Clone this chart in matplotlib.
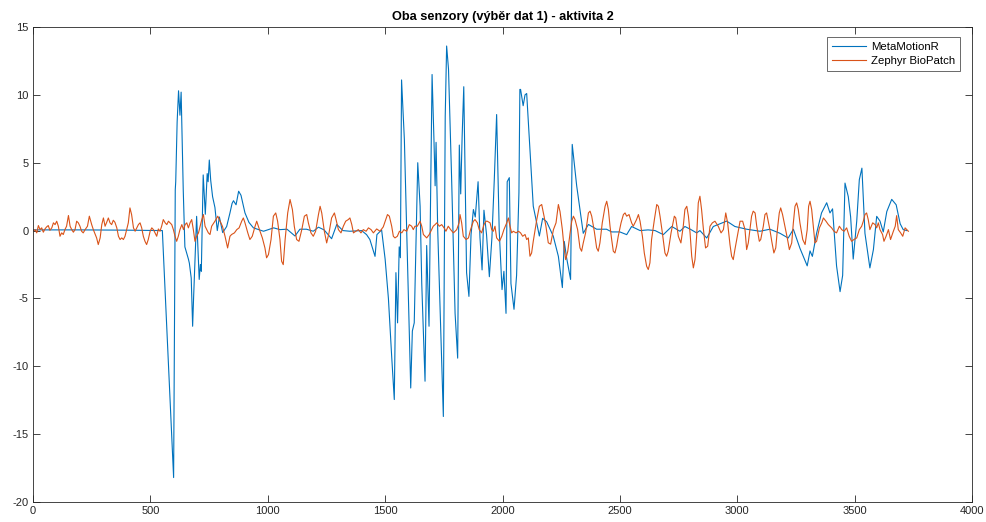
import matplotlib
matplotlib.use("Agg")
import matplotlib.pyplot as plt

plt.rcParams['font.family'] = ['Liberation Sans', 'DejaVu Sans']
plt.rcParams['axes.unicode_minus'] = False

title = "Oba senzory (výběr dat 1) - aktivita 2"
labels = ["MetaMotionR", "Zephyr BioPatch"]
xticks = [0, 500, 1000, 1500, 2000, 2500, 3000, 3500, 4000]
yticks = [-20, -15, -10, -5, 0, 5, 10, 15]

blue_x = [0,200,400,551,599,606,608,614,620,626,
          631,640,647,662,666,674,680,684,697,708,
          713,717,725,734,742,746,751,757,765,775,
          785,794,808,825,839,848,854,865,876,886,
          903,920,939,982,1025,1052,1082,1116,1137,1165,
          1194,1216,1240,1272,1294,1320,1350,1400,1421,1435,
          1457,1465,1485,1500,1514,1528,1539,1546,1553,1560,
          1565,1570,1582,1609,1616,1624,1639,1649,1656,1670,
          1677,1687,1692,1700,1708,1713,1717,1724,1734,1748,
          1756,1762,1770,1783,1798,1809,1816,1822,1828,1835,
          1847,1857,1866,1876,1884,1896,1904,1913,1921,1932,
          1944,1955,1965,1975,1986,1998,2006,2015,2020,2029,
          2036,2049,2060,2070,2074,2077,2088,2096,2103,2110,
          2131,2157,2171,2188,2216,2238,2255,2263,2273,2290,
          2297,2316,2344,2366,2401,2443,2465,2500,2529,2550,
          2586,2620,2650,2685,2721,2756,2777,2800,2827,2841,
          2870,2898,2912,2955,2990,3040,3097,3139,3182,3217,
          3239,3267,3298,3310,3320,3338,3359,3381,3395,3406,
          3423,3438,3449,3459,3473,3483,3494,3509,3520,3531,
          3544,3565,3580,3594,3608,3622,3637,3658,3677,3694,
          3707,3722]
blue_y = [0.05,0.05,0.03,0.0,-18.2,3.0,3.6,8.0,10.3,8.5,
          10.2,3.0,-1.2,-2.1,-2.4,-3.5,-7.05,-5.0,1.05,-3.6,
          -2.5,-3.0,4.1,1.2,4.2,3.6,5.2,3.7,2.5,1.7,
          0.0,1.0,-0.15,0.3,1.3,2.0,2.2,1.9,2.9,2.6,
          1.3,0.6,0.2,-0.05,0.2,0.07,0.1,-0.4,0.1,0.1,
          -0.05,0.25,0.05,-0.6,0.45,0.0,-0.05,0.0,-0.3,-0.66,
          -1.9,-0.3,0.05,-2.1,-5.0,-9.3,-12.45,-3.1,-6.8,-1.2,
          -2.0,11.1,6.7,-11.6,-7.4,-6.8,5.0,1.8,-3.9,-11.1,
          -1.1,-7.05,0.0,11.5,6.7,3.3,6.5,0.07,-5.6,-13.7,
          8.4,13.6,11.9,4.0,-6.1,-9.4,6.3,2.7,6.9,10.6,
          -3.1,-4.85,-0.3,1.55,1.0,3.6,-0.5,-2.9,1.5,-0.3,
          -3.4,-0.5,3.75,8.55,0.0,-4.35,-3.0,-6.1,3.6,3.9,
          -3.9,-5.8,-3.3,2.8,10.4,10.4,9.2,10.0,10.1,8.05,
          1.8,-0.4,0.9,0.65,-0.4,-1.9,-4.2,-0.8,-2.0,-3.6,
          6.35,3.3,-0.2,0.45,0.1,0.1,-0.1,-0.1,-0.3,0.3,
          0.0,0.05,0.0,-0.3,0.3,-0.05,0.3,0.1,-0.17,0.0,
          -0.55,0.3,0.4,0.7,0.3,0.1,-0.05,0.1,-0.2,-0.55,
          0.1,-1.3,-2.6,-1.5,-1.9,-0.2,1.3,2.05,1.3,1.6,
          -2.6,-4.5,-3.3,3.5,2.5,1.0,-2.1,0.7,3.75,4.6,
          -0.2,-2.75,-1.4,1.05,0.7,-0.1,1.4,2.3,1.9,0.5,
          0.07,0.0]

orange_x = [0,9,16,23,30,37,44,51,58,65,
            72,80,87,94,101,108,115,122,129,136,
            143,151,158,165,172,179,186,193,200,207,
            214,222,232,240,250,257,271,278,286,293,
            300,307,314,321,328,335,342,349,357,364,
            371,378,385,392,399,406,413,420,428,435,
            442,449,456,463,470,477,484,491,499,506,
            513,520,527,534,541,548,555,563,570,577,
            584,591,598,605,612,619,626,634,641,648,
            655,662,669,676,683,690,697,705,712,719,
            726,733,740,747,754,
            761,775,787,797,807,818,829,839,846,858,
            868,878,889,896,903,915,924,934,946,953,
            960,967,977,988,995,1003,1014,1024,1034,1042,
            1052,1059,1066,1074,1085,1095,1105,1113,1123,1133,
            1145,1156,1166,1173,1184,1194,1204,1216,1223,1230,
            1241,1251,1261,1272,1284,1291,1301,1312,1322,1332,
            1343,1350,1358,1365,1375,1386,1397,1407,1419,1429,
            1440,1450,1464,1478,1492,
            1510,1518,1528,1535,1542,1552,1561,1571,1580,1592,
            1603,1613,1620,1627,1637,1649,1656,1663,1677,1688,
            1698,1705,1713,1720,1731,1741,1751,1759,1769,1779,
            1791,1805,1815,1819,1826,1833,1845,1855,1864,1876,
            1883,1893,1901,1911,1921,1930,1935,1947,1954,1961,
            1968,1975,1987,1997,2006,2018,2025,2032,2039,2046,
            2058,2068,2077,2086,2096,2103,2110,2117,2124,2131,
            2139,2146,2157,2167,2177,2185,2195,2205,2217,2228,
            2238,2245,
            2255,2263,2269,2278,2288,2295,2302,2309,2320,2330,
            2337,2344,2354,2366,2373,2380,2391,2401,2408,2415,
            2425,2437,2444,2451,2458,2465,2472,2479,2486,2493,
            2505,2515,2522,2529,2539,2550,2557,2564,2571,2579,
            2586,2596,2604,2614,2621,2628,2635,2647,2657,2664,
            2671,2681,2692,2699,2706,2718,2728,2732,2738,2749,
            2760,2770,2777,2785,2792,2799,2806,2813,2820,2827,
            2834,2841,2848,2856,2865,2874,2884,2894,2905,2919,
            2931,2941,2951,2959,2969,2976,2983,2990,
            3012,3023,3033,3040,3047,3054,3061,3068,3076,3083,
            3094,3100,3111,3118,3125,3132,3139,3147,3156,3164,
            3171,3179,3185,3193,3203,3213,3222,3232,3239,3246,
            3253,3260,3267,3279,3289,3298,3304,3310,3317,3324,
            3331,3338,3350,3360,3367,3378,3388,3402,3412,3423,
            3435,3445,3455,3466,3477,3487,3497,3509,3520,3530,
            3537,3544,3551,3558,3565,3577,3587,3594,3601,3608,
            3619,3625,3634,3644,3653,3665,3673,3679,3686,3696,
            3705,3715,3722,3729]
orange_y = [-0.05,0.07,-0.17,0.37,0.07,0.2,-0.12,0.12,0.27,0.37,
            0.02,0.2,0.57,0.44,0.69,0.32,-0.42,-0.17,-0.29,0.07,
            0.32,1.11,0.32,0.07,-0.12,0.07,0.69,0.57,0.32,-0.05,
            -0.17,0.07,0.32,1.06,0.44,0.07,-0.54,-1.03,-0.54,0.44,
            0.93,0.32,0.61,0.93,0.57,0.44,0.76,0.61,0.2,-0.42,
            -0.66,-0.54,-0.66,-0.42,0.07,0.57,1.67,1.18,0.2,-0.05,
            0.2,0.44,0.57,0.2,-0.42,-0.79,-1.03,-0.66,-0.05,0.2,
            0.07,-0.17,-0.42,0.12,-0.05,0.32,0.81,0.57,0.44,0.69,
            0.57,0.44,0.07,-0.42,-0.79,-0.42,0.07,0.44,0.07,0.44,
            0.57,0.2,0.57,0.81,0.07,-0.79,-0.42,-0.17,0.32,0.81,
            1.18,0.32,0.07,-0.17,-0.29,
            0.32,0.69,1.06,0.69,0.32,-0.42,-1.28,-0.42,-0.29,-0.17,
            0.07,0.2,0.69,0.93,0.57,-0.17,-0.66,-0.42,0.32,0.69,
            0.32,-0.05,-0.54,-1.28,-2.01,-1.77,-0.66,1.06,1.3,0.69,
            -0.66,-2.26,-2.51,-0.66,1.3,2.29,1.55,0.32,-0.66,-0.79,
            0.07,1.06,1.18,0.57,-0.17,-0.42,-0.05,1.18,1.79,1.3,
            -0.05,-0.91,-0.17,0.93,1.3,0.81,0.07,-0.17,0.32,0.69,
            0.81,0.93,0.44,-0.17,-0.05,0.07,-0.17,0.07,-0.05,0.2,
            0.07,-0.17,0.12,-0.05,0.27,
            1.18,1.06,0.32,-0.42,-0.54,-0.42,-0.05,-0.17,0.07,-0.05,
            0.44,0.32,0.07,0.32,0.32,0.69,0.32,-0.29,-0.54,-0.29,
            0.07,0.32,0.44,0.57,0.32,0.44,0.2,-0.05,0.32,0.07,
            -0.17,0.07,0.57,1.18,0.57,-0.42,-0.66,-0.54,0.07,0.69,
            0.81,0.57,0.07,-0.17,0.44,0.69,0.69,0.57,0.07,-0.05,
            0.32,-0.54,-0.79,-0.42,0.07,0.57,0.93,0.32,-0.17,-0.05,
            -0.17,-0.05,-0.17,-0.42,-0.29,-0.66,-0.54,-1.89,-1.65,-0.79,
            0.07,0.81,1.79,1.92,1.06,0.32,-0.9,-1.0,0.07,0.57,
            1.92,1.4,
            0.07,-1.4,-2.14,-1.52,-0.17,0.69,1.06,0.81,0.07,-1.28,
            -1.52,-0.91,-0.17,1.3,1.43,1.06,-0.05,-1.28,-1.52,-0.91,
            0.57,1.79,2.16,1.55,0.32,-0.66,-1.52,-1.65,-1.15,-0.42,
            0.57,1.18,1.3,1.06,1.18,0.57,0.32,0.57,0.81,1.18,
            0.69,-0.42,-1.65,-2.63,-2.87,-2.38,-0.66,0.81,1.92,1.79,
            1.06,-0.17,-1.65,-1.89,-1.52,-0.17,0.69,1.06,0.93,-0.42,
            -0.91,0.32,1.55,1.79,1.06,-0.17,-1.89,-2.75,-2.14,-0.42,
            2.04,2.53,1.55,0.07,-1.28,-1.15,0.32,0.57,0.69,0.32,
            -0.17,0.07,1.3,0.57,-1.03,-1.89,-2.14,-1.4,
            0.69,0.69,0.07,-1.4,-0.91,0.07,1.06,1.43,1.3,0.32,
            -0.79,-0.66,0.32,1.18,1.3,0.69,0.07,-0.79,-1.65,-1.28,
            0.07,1.3,1.67,1.18,0.32,-0.54,-1.4,-0.91,0.57,1.79,
            2.04,1.55,0.57,-0.66,-1.03,0.07,1.79,2.16,1.55,0.32,
            -0.91,-0.79,0.2,0.57,0.93,0.69,0.44,0.2,-0.05,-0.17,
            0.32,0.07,-0.05,0.2,-0.42,-0.79,-0.66,-0.54,0.07,0.32,
            0.69,1.18,1.3,0.81,0.07,0.57,0.44,0.2,0.57,0.07,
            -0.29,-0.79,-0.42,0.07,-0.66,-0.05,0.32,1.1,0.07,-0.17,
            -0.42,0.2,0.07,-0.05]

fig = plt.figure(figsize=(9.87, 5.22), dpi=100)
ax = fig.add_axes([33/987, 20/522, 939/987, 475/522])
ax.plot(blue_x, blue_y, color='#0072BD', lw=0.8, label=labels[0])
ax.plot(orange_x, orange_y, color='#D95319', lw=0.8, label=labels[1])

ax.set_xlim(0, 4000)
ax.set_ylim(-20, 15)
ax.set_xticks(xticks)
ax.set_yticks(yticks)
ax.tick_params(direction='in', length=5, width=0.6, colors='#262626',
               labelsize=8, top=True, right=True, pad=3)
for s in ax.spines.values():
    s.set_color('#262626')
    s.set_linewidth(0.6)
ax.set_title(title, fontsize=9.2, fontweight='bold', color='black', pad=5)
leg = ax.legend(loc='upper right', bbox_to_anchor=(0.9872, 0.979), fontsize=8.2,
                frameon=True, fancybox=False, edgecolor='#262626',
                handlelength=3.0, borderpad=0.45, labelspacing=0.3,
                handletextpad=0.4, borderaxespad=0)
leg.get_frame().set_linewidth(0.6)
fig.savefig('out.png', dpi=100, facecolor='white')
